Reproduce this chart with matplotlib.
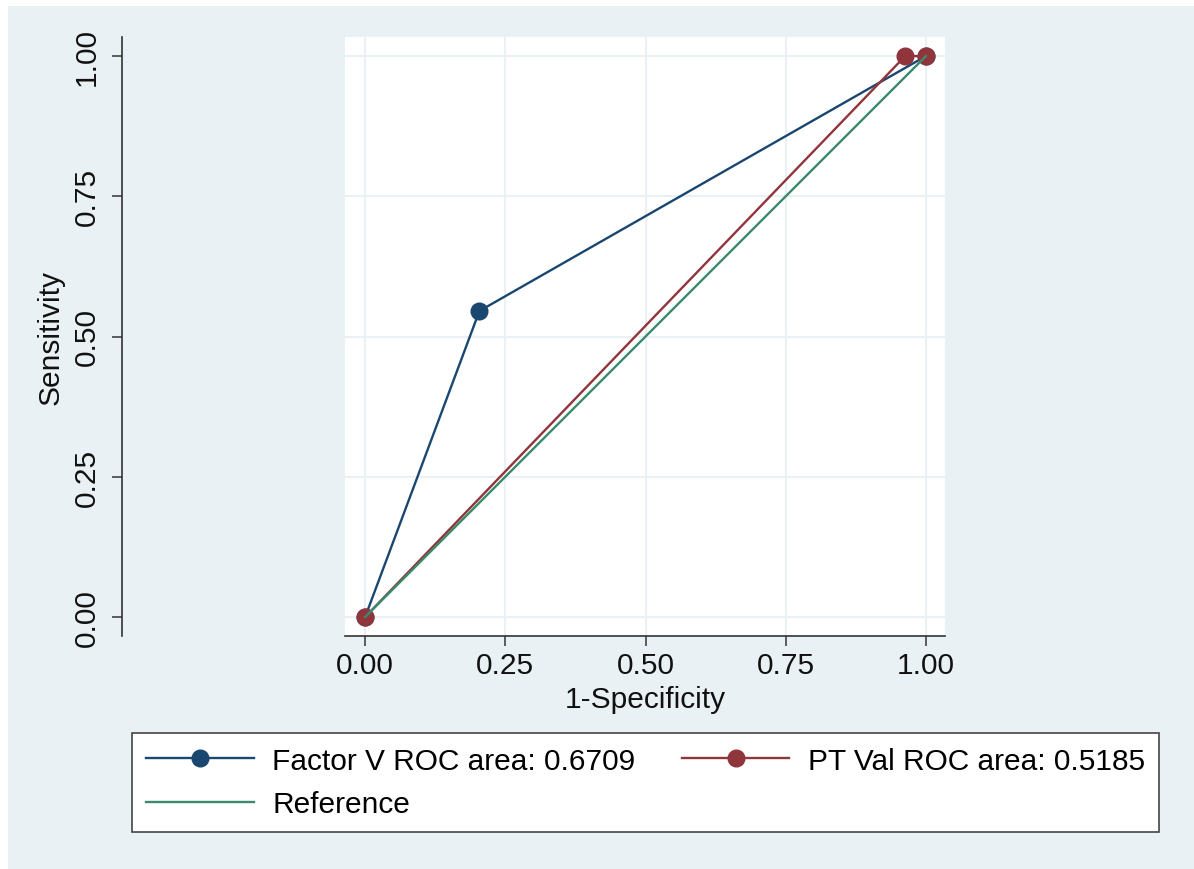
import matplotlib
matplotlib.use('Agg')
import matplotlib.pyplot as plt
from matplotlib.patches import Rectangle
from matplotlib.ticker import FormatStrFormatter

# ROC points
factorv_x = [0.0, 0.2037, 1.0]
factorv_y = [0.0, 0.5455, 1.0]
ptval_x = [0.0, 0.963, 1.0]
ptval_y = [0.0, 1.0, 1.0]
ref_x = [0.0, 1.0]
ref_y = [0.0, 1.0]
ticks = [0.0, 0.25, 0.5, 0.75, 1.0]

factorv_label = 'Factor V ROC area: 0.6709'
ptval_label = 'PT Val ROC area: 0.5185'
ref_label = 'Reference'

plt.rcParams['font.family'] = ['Liberation Sans', 'DejaVu Sans']
fs = 21.5

W, H = 1194, 870
fig = plt.figure(figsize=(W / 100, H / 100), dpi=100, facecolor='white')
bg = '#EAF1F4'
fig.patches.append(Rectangle((8 / W, 0), 1, (H - 7) / H, transform=fig.transFigure,
                             facecolor=bg, edgecolor='none', zorder=-10))

ax = fig.add_axes([345 / W, (H - 637) / H, 600 / W, 599 / H])
ax.set_facecolor('white')

blue = '#1A476F'
red = '#90353B'
green = '#3A8A6C'

l1, = ax.plot(factorv_x, factorv_y, color=blue, lw=1.7, marker='o', ms=12, label=factorv_label)
l2, = ax.plot(ptval_x, ptval_y, color=red, lw=1.7, marker='o', ms=12, label=ptval_label)
l3, = ax.plot(ref_x, ref_y, color=green, lw=1.7, label=ref_label)

ax.set_xlim(-0.036, 1.034)
ax.set_ylim(-0.034, 1.034)
ax.set_xticks(ticks)
ax.set_yticks(ticks)
ax.xaxis.set_major_formatter(FormatStrFormatter('%.2f'))
ax.yaxis.set_major_formatter(FormatStrFormatter('%.2f'))
ax.grid(True, color='#EAF1F4', lw=1.5)
ax.set_axisbelow(True)

for s in ['top', 'right']:
    ax.spines[s].set_visible(False)
ax.spines['left'].set_position(('outward', 223 * 0.72))
ax.spines['left'].set_color('#333333')
ax.spines['bottom'].set_color('#333333')
ax.spines['left'].set_linewidth(1.2)
ax.spines['bottom'].set_linewidth(1.2)

ax.tick_params(axis='both', length=7, width=1.1, color='#333333', labelsize=fs, labelcolor='#111111')
ax.tick_params(axis='y', pad=8)
ax.tick_params(axis='x', pad=4)
for lab in ax.get_yticklabels():
    lab.set_rotation(90)
    lab.set_va('center')

ax.set_xlabel('1-Specificity', fontsize=fs, color='#111111', labelpad=4)
ax.set_ylabel('Sensitivity', fontsize=fs, color='#111111', labelpad=6)

leg = fig.legend(handles=[l1, l3, l2], loc='lower left',
                 bbox_to_anchor=(132 / W, (H - 833) / H, (1159 - 132) / W, 98 / H),
                 mode='expand', ncol=2, fontsize=fs, handlelength=3.6, handletextpad=0.62,
                 borderpad=0.47, labelspacing=0.51, fancybox=False, framealpha=1,
                 edgecolor='#444444', borderaxespad=0)
leg.get_frame().set_linewidth(1.2)

fig.savefig('out.png', dpi=100, facecolor=fig.get_facecolor())
